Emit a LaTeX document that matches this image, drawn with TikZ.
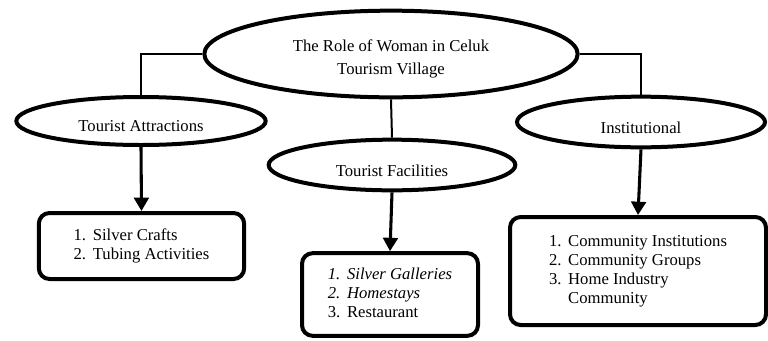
\documentclass[tikz,border=0pt]{standalone}
\usepackage{fontspec}
\setmainfont{Liberation Serif}
\usetikzlibrary{arrows.meta,shapes.geometric}

\newcommand{\lowtext}[1]{\raisebox{-4pt}[\height][\depth]{#1}}

\tikzset{
    oval/.style={ellipse, draw, line width=3pt, inner sep=0pt,
        font=\fontsize{12.5}{14.3}\selectfont, align=center},
    listbox/.style={draw, rounded corners=8pt, line width=3pt, inner sep=0pt,
        font=\fontsize{12.5}{14.3}\selectfont},
    link/.style={line width=1.5pt},
    flow/.style={line width=2.3pt, -{Triangle[width=11pt,length=10pt]}},
}

\begin{document}
\begin{tikzpicture}[x=0.75pt,y=0.75pt,yscale=-1,xscale=1]
    \useasboundingbox (0,0) rectangle (768,340);
    % top level
    \node [oval, minimum width=280pt, minimum height=65pt] (role) at (391,54) {\lowtext{\begin{tabular}{@{}c@{}}The Role of Woman in Celuk\\[3pt]Tourism Village\end{tabular}}};
    % second level
    \node [oval, minimum width=187pt, minimum height=36pt] (attr) at (141,121) {\lowtext{Tourist Attractions}};
    \node [oval, minimum width=185pt, minimum height=38pt] (fac) at (392,165) {\lowtext{Tourist Facilities}};
    \node [oval, minimum width=186pt, minimum height=38pt] (inst) at (641,122) {\lowtext{Institutional}};
    % lists
    \node [listbox, minimum width=154pt, minimum height=49.5pt] (attrlist) at (141.5,246) {%
        \begin{tabular}{@{}l@{\hspace{5pt}}l@{}}
        1. & Silver Crafts\\
        2. & Tubing Activities
        \end{tabular}};
    \node [listbox, minimum width=132pt, minimum height=62pt] (faclist) at (390,294.5) {%
        \begin{tabular}{@{}l@{\hspace{5pt}}l@{}}
        \textit{1.} & \textit{Silver Galleries}\\
        \textit{2.} & \textit{Homestays}\\
        3. & Restaurant
        \end{tabular}};
    \node [listbox, minimum width=192pt, minimum height=81pt] (instlist) at (638,271) {%
        \begin{tabular}{@{}l@{\hspace{5pt}}l@{}}
        1. & Community Institutions\\
        2. & Community Groups\\
        3. & Home Industry\\
           & Community
        \end{tabular}};
    % connectors
    \draw [link] (role.west) -| (attr.north);
    \draw [link] (role.south) -- (fac.north);
    \draw [link] (role.east) -| (inst.north);
    \draw [flow] (attr.south) -- (attrlist.north);
    \draw [flow] (fac.south) -- (faclist.north);
    \draw [flow] (inst.south) -- (instlist.north);
\end{tikzpicture}
\end{document}
